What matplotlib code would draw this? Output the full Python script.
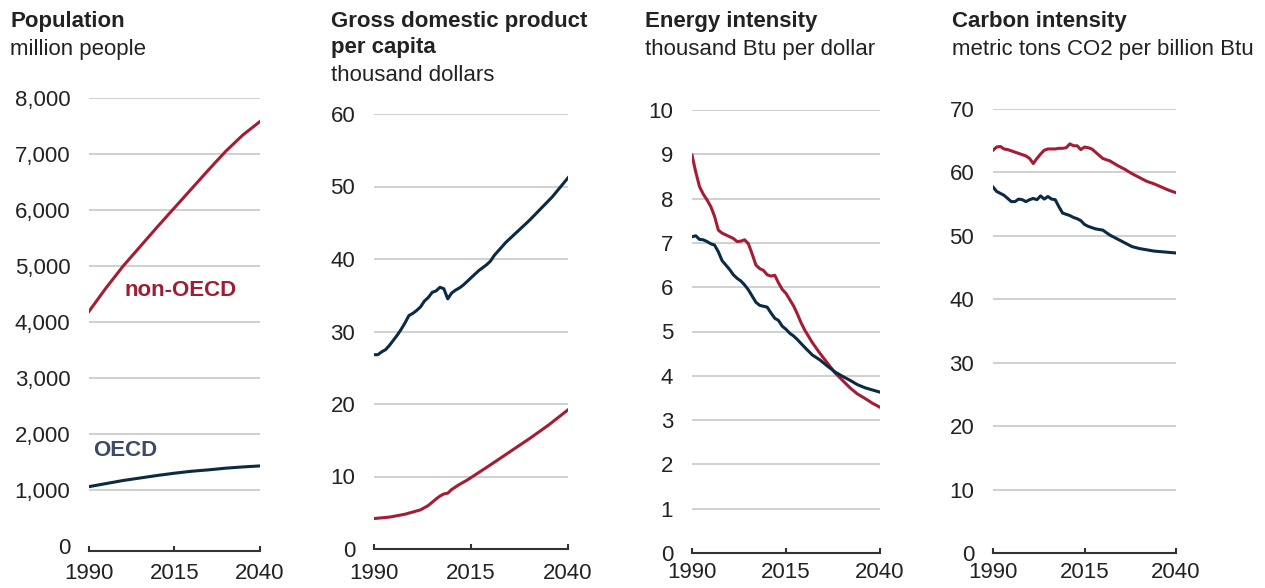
import matplotlib
matplotlib.use("Agg")
import matplotlib.pyplot as plt

plt.rcParams['font.family'] = ['Liberation Sans', 'DejaVu Sans']

RED = '#a31d35'
NAVY = '#0b2a44'
GRID = '#c8c8c8'
TXT = '#222222'

# ---------------- data ----------------
pop_years = [1990, 1995, 2000, 2005, 2010, 2015, 2020, 2025, 2030, 2035, 2040]
pop_nonoecd = [4190, 4610, 5000, 5350, 5700, 6040, 6380, 6720, 7050, 7340, 7580]
pop_oecd = [1060, 1115, 1170, 1215, 1260, 1300, 1335, 1360, 1390, 1412, 1430]

gdp_oecd_years = [1990, 1991, 1992, 1993, 1994, 1995, 1996, 1997, 1998, 1999, 2000, 2001,
                  2002, 2003, 2004, 2005, 2006, 2007, 2008, 2009, 2010, 2011, 2012, 2013,
                  2014, 2015, 2016, 2017, 2018, 2019, 2020, 2021, 2022, 2024, 2026, 2028,
                  2030, 2032, 2034, 2036, 2038, 2040]
gdp_oecd = [26.8, 26.8, 27.2, 27.5, 28.1, 28.8, 29.5, 30.3, 31.2, 32.2, 32.5, 32.9,
            33.4, 34.2, 34.7, 35.4, 35.6, 36.1, 35.9, 34.5, 35.3, 35.7, 36.0, 36.4,
            36.9, 37.4, 37.9, 38.4, 38.8, 39.2, 39.7, 40.5, 41.1, 42.3, 43.3, 44.3,
            45.3, 46.4, 47.5, 48.6, 49.9, 51.2]
gdp_non_years = [1990, 1992, 1994, 1996, 1998, 2000, 2002, 2004, 2006, 2007, 2008, 2009,
                 2010, 2012, 2014, 2016, 2018, 2020, 2025, 2030, 2035, 2040]
gdp_non = [4.2, 4.3, 4.4, 4.6, 4.8, 5.1, 5.4, 6.0, 6.9, 7.3, 7.6, 7.7,
           8.2, 8.9, 9.5, 10.2, 10.9, 11.6, 13.4, 15.2, 17.1, 19.2]

ei_non_years = [1990, 1991, 1992, 1993, 1994, 1995, 1996, 1997, 1998, 1999, 2000, 2001,
                2002, 2003, 2004, 2005, 2006, 2007, 2008, 2009, 2010, 2011, 2012, 2013,
                2014, 2015, 2016, 2017, 2018, 2019, 2020, 2022, 2024, 2026, 2028, 2030,
                2032, 2034, 2036, 2038, 2040]
ei_non = [8.98, 8.6, 8.27, 8.1, 7.97, 7.82, 7.6, 7.29, 7.22, 7.18, 7.14, 7.1,
          7.03, 7.04, 7.07, 6.98, 6.75, 6.5, 6.42, 6.38, 6.28, 6.25, 6.27, 6.1,
          5.95, 5.86, 5.72, 5.58, 5.4, 5.2, 5.03, 4.75, 4.51, 4.29, 4.07, 3.9,
          3.73, 3.59, 3.49, 3.38, 3.29]
ei_oecd_years = [1990, 1991, 1992, 1993, 1994, 1995, 1996, 1997, 1998, 1999, 2000, 2001,
                 2002, 2003, 2004, 2005, 2006, 2007, 2008, 2009, 2010, 2011, 2012, 2013,
                 2014, 2015, 2016, 2017, 2018, 2020, 2022, 2024, 2026, 2028, 2030, 2032,
                 2034, 2036, 2038, 2040]
ei_oecd = [7.14, 7.16, 7.08, 7.07, 7.03, 6.98, 6.95, 6.8, 6.6, 6.5, 6.4, 6.28,
           6.2, 6.14, 6.05, 5.94, 5.8, 5.66, 5.59, 5.57, 5.55, 5.42, 5.3, 5.25,
           5.12, 5.05, 4.96, 4.9, 4.82, 4.64, 4.47, 4.36, 4.22, 4.09, 3.99, 3.9,
           3.8, 3.73, 3.68, 3.63]

ci_non_years = [1990, 1991, 1992, 1993, 1994, 1995, 1996, 1997, 1998, 1999, 2000, 2001,
                2002, 2003, 2004, 2005, 2006, 2007, 2008, 2009, 2010, 2011, 2012, 2013,
                2014, 2015, 2016, 2017, 2018, 2019, 2020, 2022, 2024, 2026, 2028, 2030,
                2032, 2034, 2036, 2038, 2040]
ci_non = [63.5, 64.0, 64.1, 63.7, 63.6, 63.4, 63.2, 63.0, 62.8, 62.6, 62.2, 61.4,
          62.2, 62.9, 63.5, 63.7, 63.7, 63.7, 63.8, 63.8, 63.9, 64.5, 64.2, 64.2,
          63.6, 64.0, 63.9, 63.7, 63.2, 62.7, 62.2, 61.8, 61.1, 60.5, 59.8, 59.2,
          58.6, 58.2, 57.7, 57.2, 56.8]
ci_oecd_years = [1990, 1991, 1992, 1993, 1994, 1995, 1996, 1997, 1998, 1999, 2000, 2001,
                 2002, 2003, 2004, 2005, 2006, 2007, 2008, 2009, 2010, 2011, 2012, 2013,
                 2014, 2015, 2016, 2017, 2018, 2019, 2020, 2021, 2022, 2024, 2026, 2028,
                 2030, 2032, 2034, 2036, 2038, 2040]
ci_oecd = [57.7, 57.0, 56.7, 56.4, 55.9, 55.4, 55.4, 55.8, 55.7, 55.4, 55.7, 55.9,
           55.7, 56.3, 55.8, 56.2, 55.8, 55.7, 54.6, 53.6, 53.4, 53.2, 52.9, 52.7,
           52.4, 51.8, 51.5, 51.3, 51.1, 51.0, 50.9, 50.5, 50.1, 49.5, 48.9, 48.3,
           48.0, 47.8, 47.6, 47.5, 47.4, 47.3]

x_ticks = [1990, 2015, 2040]
x_ticklabels = ['1990', '2015', '2040']

pop_yticks = [0, 1000, 2000, 3000, 4000, 5000, 6000, 7000, 8000]
pop_yticklabels = ['0', '1,000', '2,000', '3,000', '4,000', '5,000', '6,000', '7,000', '8,000']
gdp_yticks = [0, 10, 20, 30, 40, 50, 60]
ei_yticks = [0, 1, 2, 3, 4, 5, 6, 7, 8, 9, 10]
ci_yticks = [0, 10, 20, 30, 40, 50, 60, 70]

titles = [["Population"], ["Gross domestic product", "per capita"],
          ["Energy intensity"], ["Carbon intensity"]]
subtitles = ["million people", "thousand dollars", "thousand Btu per dollar",
             "metric tons CO2 per billion Btu"]

# ---------------- figure ----------------
W, H = 1265, 588
fig = plt.figure(figsize=(W / 100, H / 100), dpi=100)
FS = 16


def make_ax(x0, x1, ytop, ybot):
    return fig.add_axes([x0 / W, 1 - ybot / H, (x1 - x0) / W, (ybot - ytop) / H])


def style(ax, yticks, ylabels, ymax, xpad, spine_out=0):
    ax.set_xlim(1990, 2040)
    ax.set_ylim(0, ymax)
    for s in ['top', 'right', 'left']:
        ax.spines[s].set_visible(False)
    ax.spines['bottom'].set_color('#333333')
    ax.spines['bottom'].set_linewidth(1.5)
    ax.spines['bottom'].set_zorder(5)
    if spine_out:
        ax.spines['bottom'].set_position(('outward', spine_out))
    for v in yticks:
        if v > 0:
            ax.axhline(v, color=GRID, lw=1.2, zorder=1)
    ax.set_yticks(yticks)
    ax.set_yticklabels(ylabels)
    ax.set_xticks(x_ticks)
    ax.set_xticklabels(x_ticklabels)
    ax.tick_params(axis='y', length=0, pad=13.5, labelsize=FS, labelcolor=TXT)
    ax.tick_params(axis='x', direction='in', length=3.8, width=1.5, color='#333333',
                   pad=xpad, labelsize=FS, labelcolor=TXT)
    ax.patch.set_alpha(0)


LW = 2.2

ax1 = make_ax(89, 260, 98, 546)
style(ax1, pop_yticks, pop_yticklabels, 8000, 9.0, spine_out=3.5)
ax1.plot(pop_years, pop_nonoecd, color=RED, lw=LW, zorder=3)
ax1.plot(pop_years, pop_oecd, color=NAVY, lw=LW, zorder=3)
ax1.text(2000.5, 4570, 'non-OECD', color='#a01c33', fontsize=FS, fontweight='bold',
         ha='left', va='center')
ax1.text(1991.2, 1714, 'OECD', color='#3b4a66', fontsize=FS, fontweight='bold',
         ha='left', va='center')

ax2 = make_ax(374, 568, 114, 549)
style(ax2, gdp_yticks, [str(v) for v in gdp_yticks], 60, 10.0)
ax2.plot(gdp_non_years, gdp_non, color=RED, lw=LW, zorder=3)
ax2.plot(gdp_oecd_years, gdp_oecd, color=NAVY, lw=LW, zorder=3)

ax3 = make_ax(692, 880, 110, 553)
style(ax3, ei_yticks, [str(v) for v in ei_yticks], 10, 6.5)
ax3.plot(ei_non_years, ei_non, color=RED, lw=LW, zorder=3)
ax3.plot(ei_oecd_years, ei_oecd, color=NAVY, lw=LW, zorder=3)

ax4 = make_ax(993, 1176, 109, 553)
style(ax4, ci_yticks, [str(v) for v in ci_yticks], 70, 6.5)
ax4.plot(ci_non_years, ci_non, color=RED, lw=LW, zorder=3)
ax4.plot(ci_oecd_years, ci_oecd, color=NAVY, lw=LW, zorder=3)

# titles
title_x = [10, 331, 645, 952]
for tx, tl, st in zip(title_x, titles, subtitles):
    yb = 27
    for line in tl:
        fig.text(tx / W, 1 - yb / H, line, fontsize=FS, fontweight='bold', color=TXT,
                 ha='left', va='baseline')
        yb += 26.5
    fig.text(tx / W, 1 - (yb + 1) / H, st, fontsize=FS, color=TXT, ha='left', va='baseline')

fig.savefig('out.png', dpi=100)
